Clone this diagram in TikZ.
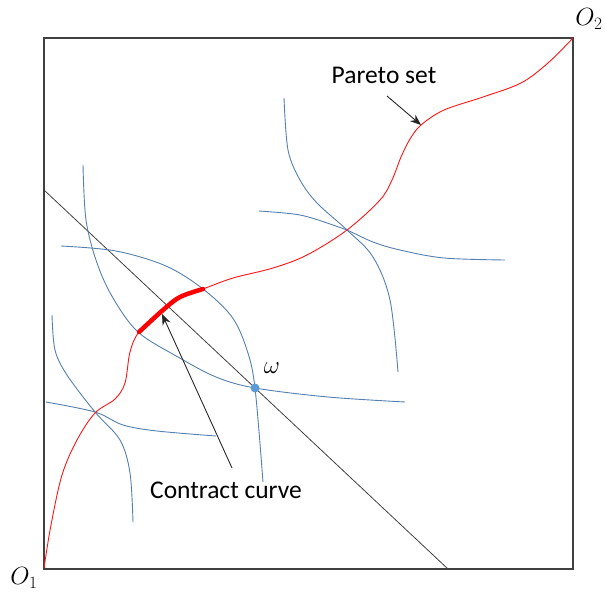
\documentclass[tikz,border=0pt]{standalone}
\usepackage{fontspec}
\setsansfont{Carlito}
\usetikzlibrary{arrows.meta}
\definecolor{icblue}{RGB}{84,128,176}
\definecolor{dotblue}{RGB}{91,155,213}
\definecolor{boxgray}{RGB}{64,64,64}
\definecolor{paretored}{RGB}{255,20,20}
\tikzset{
  icurve/.style={icblue, line width=0.9pt},
  pcurve/.style={paretored, line width=0.9pt},
  ccurve/.style={red, line width=4.5pt, line cap=round},
  lbl/.style={font=\sffamily\fontsize{25.5}{30}\selectfont, inner sep=0pt},
  mlbl/.style={font=\fontsize{27}{31}\selectfont, inner sep=0pt},
  pointer/.style={black!85, line width=0.9pt, -{Stealth[length=11pt,width=8.5pt]}}
}
\begin{document}
\begin{tikzpicture}[x=1pt,y=-1pt]
\useasboundingbox (0,0) rectangle (605,594);
% box
\draw[boxgray, line width=1.2pt] (44,38) rectangle (573,569);
% budget line
\coordinate (bl1) at (44,190);
\coordinate (bl2) at (448,569);
\draw[boxgray, line width=0.8pt] (bl1) -- (bl2);
% indifference curves
\draw[icurve] plot[smooth, tension=0.55] coordinates {(52,315) (55,350) (67,375) (95,412) (120,440) (130,473) (133,522)};
\draw[icurve] plot[smooth, tension=0.55] coordinates {(46,402) (95,412) (123,425) (157,431) (216,436)};
\draw[icurve] plot[smooth, tension=0.55] coordinates {(83,165) (86,220) (97,263) (113,298) (138,332) (178,357) (216,377) (255,388) (328,397) (405,402)};
\draw[icurve] plot[smooth, tension=0.55] coordinates {(61,246) (116,251) (166,266) (203,289) (232,317) (247,350) (255,388) (263,482)};
\draw[icurve] plot[smooth, tension=0.55] coordinates {(284,98) (288,150) (300,180) (317,203) (347,230) (373,257) (390,300) (398,372)};
\draw[icurve] plot[smooth, tension=0.55] coordinates {(259,211) (300,215) (333,225) (347,230) (373,242) (400,250) (444,258) (505,260)};
% Pareto set
\draw[pcurve] plot[smooth, tension=0.55] coordinates {(44,568) (51,525) (62,475) (77,440) (95,413) (115,399) (125,383) (130,352) (139,332) (163,310) (180,297) (203,289) (233,278) (273,268) (307,255) (347,230) (380,200) (392,180) (401,157) (410,139) (421,125) (444,110) (483,97) (521,83) (548,63) (573,38)};
% contract curve
\draw[ccurve] plot[smooth, tension=0.55] coordinates {(139,332) (163,310) (180,297) (203,289)};
% omega point
\fill[dotblue] (255,388) circle (4.5pt);
\node[mlbl] (omega) at (272,368) {$\omega$};
% labels
\node[mlbl] (O1) at (24,578) {$O_1$};
\node[mlbl] (O2) at (589,19) {$O_2$};
\node[lbl] (pareto) at (384,75) {Pareto set};
\node[lbl] (contract) at (226,490) {Contract curve};
% pointers
\coordinate (pa1) at (387,96);
\coordinate (pa2) at (421,125);
\draw[pointer] (pa1) -- (pa2);
\coordinate (ca1) at (232,468);
\coordinate (ca2) at (162,314);
\draw[pointer] (ca1) -- (ca2);
\end{tikzpicture}
\end{document}
